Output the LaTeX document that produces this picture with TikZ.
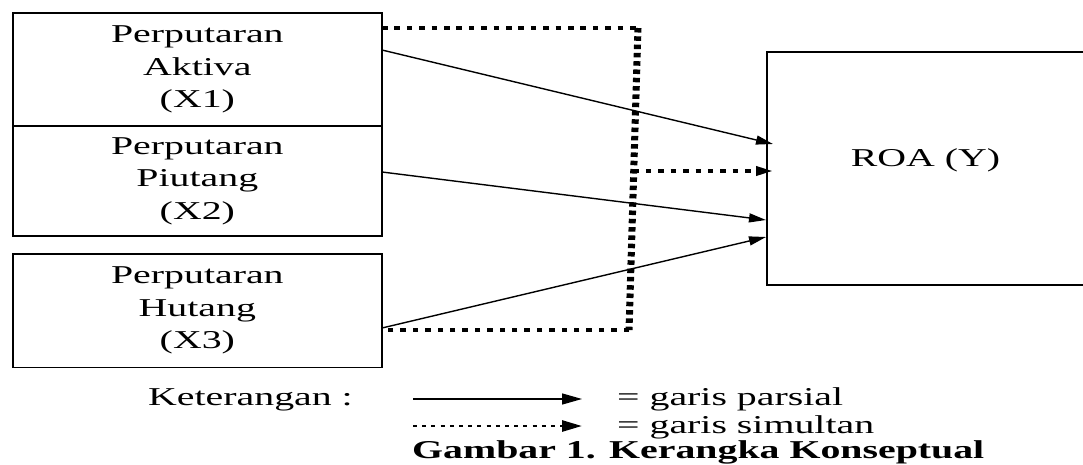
\documentclass[tikz,border=0pt]{standalone}
\usepackage{fontspec}
\setmainfont{Liberation Serif}[FakeStretch=1.55]
\usetikzlibrary{arrows.meta}
\begin{document}
\begin{tikzpicture}[x=1pt,y=-1pt,
  every node/.style={font=\fontsize{25.7}{32.5}\selectfont, text=black},
  varbox/.style={draw, line width=1.6pt, rectangle, inner sep=0pt, align=center},
  txt/.style={inner sep=0pt},
  tipbig/.style={-{Triangle[length=17pt,width=9pt]}},
  partial/.style={line width=1.4pt, tipbig},
  hdots/.style={line width=3.6pt, dash pattern=on 5.5pt off 6.9pt},
  vdots/.style={line width=7pt, dash pattern=on 4.5pt off 3.8pt},
  legdots/.style={line width=2.7pt, dash pattern=on 4pt off 5.2pt},
]
\useasboundingbox (0,0) rectangle (1083,464);
\clip (0,0) rectangle (1083,464);

% independent variables
\node[varbox, minimum width=369.3pt, minimum height=112.7pt] (x1) at (197.35,69.35)
  {Perputaran\\Aktiva\\(X1)};
\node[varbox, minimum width=369.3pt, minimum height=110.3pt] (x2) at (197.35,180.85)
  {Perputaran\\Piutang\\(X2)};
\node[varbox, minimum width=369.3pt, minimum height=113.5pt] (x3) at (197.35,310.75)
  {Perputaran\\Hutang\\(X3)};

% dependent variable
\node[varbox, minimum width=328pt, minimum height=233pt] (roa) at (931,168.5) {};
\node[txt, anchor=base] (roalabel) at (925.5,166) {ROA (Y)};

% simultaneous bracket
\coordinate (d1) at (382,28);
\coordinate (tr) at (638,28);
\coordinate (brc) at (629,330);
\coordinate (d3) at (382,330);
\coordinate (mid) at (633.5,171);
\coordinate (s) at (773,171);
\draw[hdots] (d1) -- (tr);
\draw[vdots] (tr) -- (brc);
\draw[hdots] (brc) -- (d3);
\draw[hdots, tipbig] (mid) -- (s);

% partial paths
\coordinate (p1) at (382,50);
\coordinate (p2) at (382,172);
\coordinate (p3) at (382,328);
\coordinate (q1) at (773,144);
\coordinate (q2) at (766,220);
\coordinate (q3) at (766,237);
\draw[partial] (p1) -- (q1);
\draw[partial] (p2) -- (q2);
\draw[partial] (p3) -- (q3);

% legend
\node[txt, anchor=base west] (ket) at (148,405) {Keterangan :};
\coordinate (ls1) at (413,399);
\coordinate (le1) at (582,399);
\coordinate (ls2) at (413,426);
\coordinate (le2) at (582,426);
\draw[line width=1.4pt, -{Triangle[length=20pt,width=11pt]}] (ls1) -- (le1);
\draw[legdots, -{Triangle[length=20pt,width=11pt]}] (ls2) -- (le2);
\node[txt, anchor=base west] (parsial) at (617,405) {= garis parsial};
\node[txt, anchor=base west] (simultan) at (617,433) {= garis simultan};
\node[txt, anchor=base west, font=\fontsize{25.7}{32.5}\selectfont\bfseries] (caption) at (412,458)
  {Gambar 1. Kerangka Konseptual};
\end{tikzpicture}
\end{document}
